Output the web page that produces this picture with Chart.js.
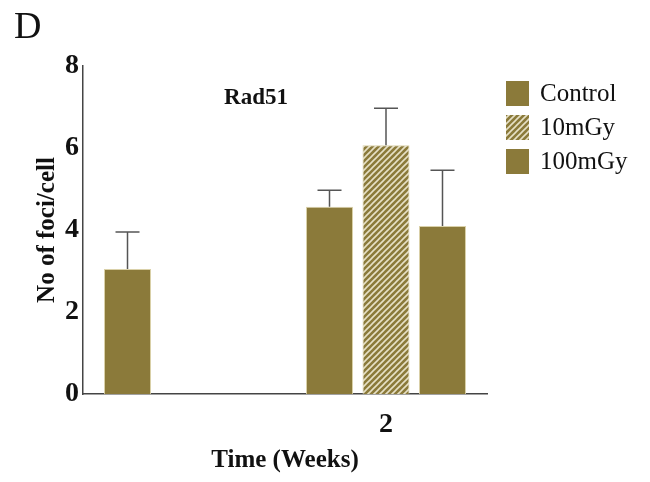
<!DOCTYPE html>
<html>
<head>
<meta charset="utf-8">
<script src="https://cdn.jsdelivr.net/npm/chart.js@4.4.0/dist/chart.umd.min.js"></script>
<style>
html, body { margin: 0; padding: 0; background: #fff; }
</style>
</head>
<body>
<canvas id="fociChart" width="650" height="482"></canvas>
<script>
// Rad51 foci per cell
var weeks = ['', '2'];
var controlVals = [3.05, 4.57];
var controlErr = [0.9, 0.4];
var lowDoseVals = [null, 6.07];
var lowDoseErr = [null, 0.9];
var highDoseVals = [null, 4.10];
var highDoseErr = [null, 1.36];
var seriesNames = ['Control', '10mGy', '100mGy'];
var yTicks = [0, 2, 4, 6, 8];

var olive = '#8b7a3a';
var serif = "'Liberation Serif', 'Times New Roman', serif";

// hatched fill for the 10mGy bar
function hatch() {
    var c = document.createElement('canvas');
    c.width = 6; c.height = 6;
    var g = c.getContext('2d');
    g.fillStyle = olive;
    g.fillRect(0, 0, 6, 6);
    g.strokeStyle = '#e6e0c6';
    g.lineWidth = 1.6;
    g.beginPath();
    g.moveTo(0, 6); g.lineTo(6, 0);
    g.moveTo(-1, 1); g.lineTo(1, -1);
    g.moveTo(5, 7); g.lineTo(7, 5);
    g.stroke();
    return g.createPattern(c, 'repeat');
}
var hatchFill = hatch();

var errorBars = {
    id: 'errorBars',
    afterDatasetsDraw: function(chart) {
        var ctx = chart.ctx, y = chart.scales.y;
        ctx.save();
        ctx.strokeStyle = '#555';
        ctx.lineWidth = 1.5;
        chart.data.datasets.forEach(function(ds, i) {
            chart.getDatasetMeta(i).data.forEach(function(bar, j) {
                var v = ds.data[j], e = ds.errors[j];
                if (v == null || e == null) return;
                var top = y.getPixelForValue(v + e), base = y.getPixelForValue(v);
                ctx.beginPath();
                ctx.moveTo(bar.x, base); ctx.lineTo(bar.x, top);
                ctx.moveTo(bar.x - 12, top); ctx.lineTo(bar.x + 12, top);
                ctx.stroke();
            });
        });
        ctx.restore();
    }
};

// panel letter, inner title and legend on the right
var extras = {
    id: 'extras',
    afterDraw: function(chart) {
        var ctx = chart.ctx;
        ctx.save();
        ctx.fillStyle = '#111';
        ctx.textBaseline = 'middle';
        ctx.font = '38px ' + serif;
        ctx.fillText('D', 14, 28);
        ctx.font = 'bold 23px ' + serif;
        ctx.textAlign = 'center';
        ctx.fillText('Rad51', 256, 98);
        ctx.textAlign = 'left';
        ctx.font = '25px ' + serif;
        chart.data.datasets.forEach(function(ds, i) {
            var cy = 93 + i * 34;
            ctx.fillStyle = ds.backgroundColor;
            ctx.fillRect(506, cy - 12, 23, 25);
            ctx.fillStyle = '#111';
            ctx.fillText(ds.label, 540, cy + 1);
        });
        ctx.restore();
    }
};

function set(label, vals, errs, fill) {
    return {
        label: label,
        data: vals,
        errors: errs,
        backgroundColor: fill,
        borderColor: 'rgba(214,204,160,0.9)',
        borderWidth: 1,
        categoryPercentage: 0.839,
        barPercentage: 0.832
    };
}

new Chart(document.getElementById('fociChart'), {
    type: 'bar',
    data: {
        labels: weeks,
        datasets: [
            set(seriesNames[0], controlVals, controlErr, olive),
            set(seriesNames[1], lowDoseVals, lowDoseErr, hatchFill),
            set(seriesNames[2], highDoseVals, highDoseErr, olive)
        ]
    },
    options: {
        responsive: false,
        animation: false,
        layout: { padding: { left: 29, right: 163, top: 66, bottom: 2 } },
        plugins: { legend: { display: false }, tooltip: { enabled: false } },
        scales: {
            x: {
                grid: { display: false, drawTicks: false },
                border: { color: '#444', width: 1.5 },
                ticks: { color: '#111', padding: 14, font: { family: serif, size: 28, weight: 'bold' } },
                title: { display: true, text: 'Time (Weeks)', color: '#111', padding: { top: 6, bottom: 4 },
                         font: { family: serif, size: 25, weight: 'bold' } },
                afterFit: function(s) { s.height = 86; }
            },
            y: {
                min: 0, max: 8,
                grid: { display: false, drawTicks: false },
                border: { color: '#444', width: 1.5 },
                afterBuildTicks: function(s) { s.ticks = yTicks.map(function(v) { return { value: v }; }); },
                ticks: { color: '#111', padding: 4, font: { family: serif, size: 28, weight: 'bold' } },
                title: { display: true, text: 'No of foci/cell', color: '#111', padding: { top: 4, bottom: 4 },
                         font: { family: serif, size: 25, weight: 'bold' } },
                afterFit: function(s) { s.width = 54; }
            }
        }
    },
    plugins: [errorBars, extras]
});
</script>
</body>
</html>
